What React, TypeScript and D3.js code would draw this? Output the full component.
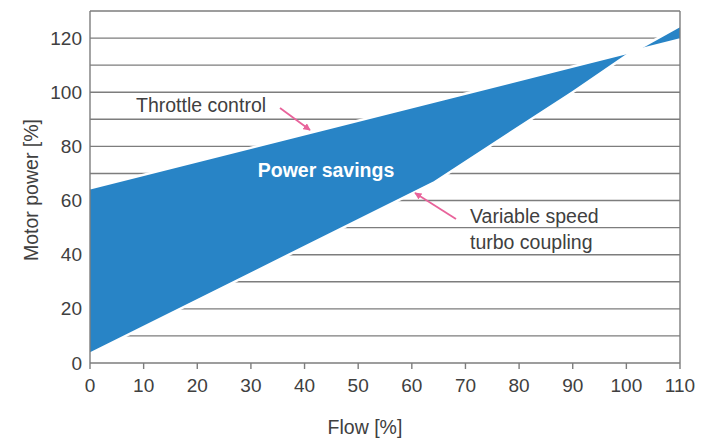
import React from 'react';
import * as d3 from 'd3';

// values
const flow = [0, 64, 90, 100, 110];
const throttle = [64.5, 96.5, 109.5, 114.5, 119.5];
const variableSpeed = [3.5, 66.5, 100, 113.5, 124.5];
const yTickLabels = [0, 20, 40, 60, 80, 100, 120];
const gridValues = [10, 20, 30, 40, 50, 60, 70, 80, 90, 100, 110, 120];
const xTickLabels = [0, 10, 20, 30, 40, 50, 60, 70, 80, 90, 100, 110];

const W = 711;
const H = 439;
const margin = { top: 11, right: 31, bottom: 76, left: 90 };

const FONT = '"Liberation Sans", Arial, sans-serif';
const TEXT = '#404040';
const GRID = '#7d7d7d';
const FILL = '#2884c6';
const PINK = '#e8639b';
const FS = 19.5;
const TICK_FS = 19;

const App: React.FC = () => {
  const x = d3.scaleLinear().domain([0, 110]).range([margin.left, W - margin.right]);
  const y = d3.scaleLinear().domain([0, 130]).range([H - margin.bottom, margin.top]);

  const rows = flow.map((f, i) => ({ f, top: throttle[i], low: variableSpeed[i] }));
  const area = d3.area<typeof rows[number]>()
    .x(d => x(d.f))
    .y0(d => y(d.low))
    .y1(d => y(d.top));
  const topLine = d3.line<typeof rows[number]>().x(d => x(d.f)).y(d => y(d.top));
  const lowLine = d3.line<typeof rows[number]>().x(d => x(d.f)).y(d => y(d.low));

  const y0 = y(0);

  return (
    <svg width={W} height={H} style={{ position: 'absolute', left: 0, top: 0 }} fontFamily={FONT}>
      <defs>
        <marker id="head" viewBox="0 0 10 10" refX="9" refY="5" markerWidth="4" markerHeight="4" orient="auto">
          <path d="M0,0 L10,5 L0,10 Z" fill={PINK} />
        </marker>
        <clipPath id="plot">
          <rect x={x(0)} y={y(130)} width={x(110) - x(0)} height={y0 - y(130)} />
        </clipPath>
      </defs>
      <rect width={W} height={H} fill="#fff" />

      {/* grid */}
      {gridValues.map(v => (
        <line key={v} x1={x(0)} x2={x(110)} y1={y(v)} y2={y(v)} stroke={GRID} strokeWidth={1.4} />
      ))}

      {/* power savings band, white edges along both curves */}
      <g clipPath="url(#plot)">
        <path d={area(rows) ?? ''} fill={FILL} />
        <path d={topLine(rows) ?? ''} fill="none" stroke="#fff" strokeWidth={2.5} />
        <path d={lowLine(rows) ?? ''} fill="none" stroke="#fff" strokeWidth={2.5} />
      </g>

      {/* frame */}
      <line x1={x(0)} x2={x(110)} y1={y(130)} y2={y(130)} stroke={GRID} strokeWidth={1.4} />
      <line x1={x(110)} x2={x(110)} y1={y(130)} y2={y0} stroke={GRID} strokeWidth={1.4} />
      <line x1={x(0)} x2={x(0)} y1={y(130)} y2={y0} stroke={GRID} strokeWidth={1.4} />
      <line x1={x(0)} x2={x(110)} y1={y0} y2={y0} stroke={GRID} strokeWidth={1.4} />

      {/* x axis ticks */}
      {xTickLabels.map(v => (
        <g key={v}>
          <line x1={x(v)} x2={x(v)} y1={y0} y2={y0 + 6} stroke={GRID} strokeWidth={1.4} />
          <text x={x(v)} y={392} textAnchor="middle" fontSize={TICK_FS} fill={TEXT}>{v}</text>
        </g>
      ))}

      {/* y axis labels */}
      {yTickLabels.map(v => (
        <text key={v} x={82} y={y(v)} dy="0.35em" textAnchor="end" fontSize={TICK_FS} fill={TEXT}>{v}</text>
      ))}

      <text x={365} y={434} textAnchor="middle" fontSize={FS} fill={TEXT}>Flow [%]</text>
      <text transform={`translate(38,190) rotate(-90)`} textAnchor="middle" fontSize={FS} fill={TEXT}>Motor power [%]</text>

      {/* annotations */}
      <text x={136} y={112} fontSize={FS} fill={TEXT}>Throttle control</text>
      <line x1={280} y1={108} x2={310} y2={130} stroke={PINK} strokeWidth={1.8} markerEnd="url(#head)" />

      <text x={326} y={177} textAnchor="middle" fontSize={FS} fontWeight="bold" fill="#fff">Power savings</text>

      <text x={470} y={223} fontSize={FS} fill={TEXT}>Variable speed</text>
      <text x={470} y={249} fontSize={FS} fill={TEXT}>turbo coupling</text>
      <line x1={456} y1={219} x2={415} y2={193} stroke={PINK} strokeWidth={1.8} markerEnd="url(#head)" />
    </svg>
  );
};

export default App;
